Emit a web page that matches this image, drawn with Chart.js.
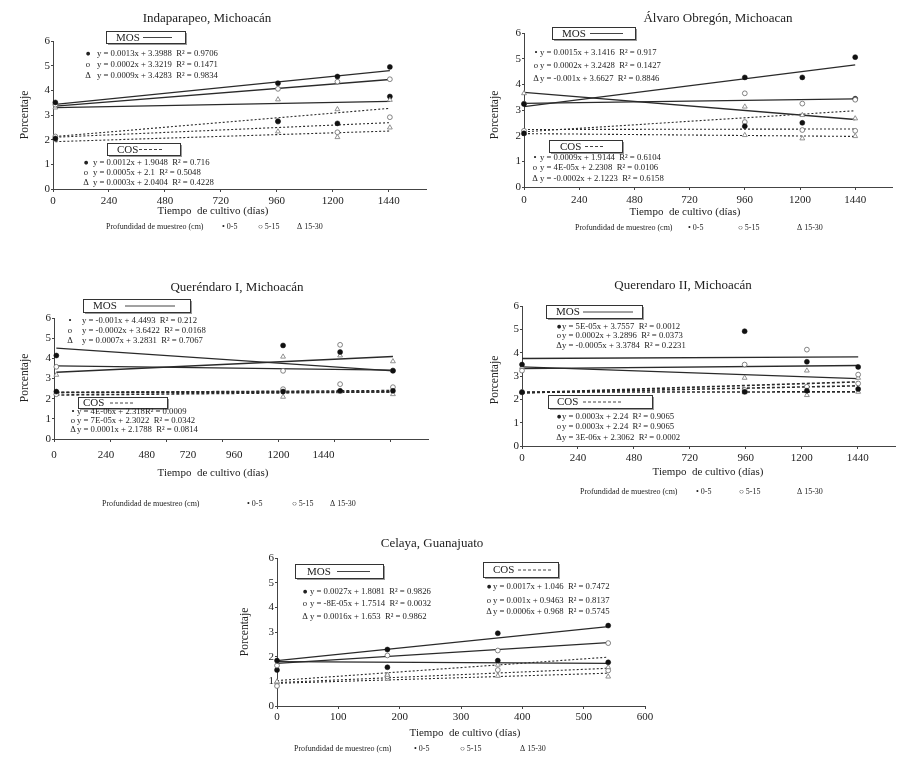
<!DOCTYPE html>
<html>
<head>
<meta charset="utf-8">
<script src="https://cdn.jsdelivr.net/npm/chart.js@4.4.1/dist/chart.umd.min.js"></script>
<style>
    html, body { margin: 0; padding: 0; background: #fff; }
    #page { position: relative; width: 900px; height: 762px; overflow: hidden; background: #fff; }
    #page canvas { position: absolute; left: 0; top: 0; }
</style>
</head>
<body>
<div id="page"></div>
<script>
// ---- values (percent vs. days of cultivation) ----
const dayTicks = [0, 240, 480, 720, 960, 1200, 1440];
const celayaTicks = [0, 100, 200, 300, 400, 500, 600];
const depthLabels = ['0-5', '5-15', '15-30'];

// Indaparapeo, Michoacán
const indapDays = [10, 965, 1220, 1445];
const indapMos05 = [3.51, 4.29, 4.56, 4.95];
const indapMos515 = [3.42, 4.06, 4.35, 4.45];
const indapMos1530 = [3.30, 3.63, 3.23, 3.61];
const indapCos05 = [2.05, 2.75, 2.66, 3.75];
const indapCos515 = [2.13, 2.73, 2.30, 2.91];
const indapCos1530 = [2.00, 2.33, 2.10, 2.49];
const indapMosFit = [[3.43, 4.80], [3.36, 4.44], [3.30, 3.55]];
const indapCosFit = [[2.13, 3.27], [2.10, 2.69], [1.92, 2.35]];
const indapMosEq = ['y = 0.0013x + 3.3988  R² = 0.9706', 'y = 0.0002x + 3.3219  R² = 0.1471', 'y = 0.0009x + 3.4283  R² = 0.9834'];
const indapCosEq = ['y = 0.0012x + 1.9048  R² = 0.716', 'y = 0.0005x + 2.1  R² = 0.5048', 'y = 0.0003x + 2.0404  R² = 0.4228'];

// Álvaro Obregón, Michoacan
const obregonDays = [0, 960, 1210, 1440];
const obregonMos05 = [3.23, 4.27, 4.27, 5.06];
const obregonMos515 = [3.25, 3.65, 3.25, 3.40];
const obregonMos1530 = [3.65, 3.13, 2.80, 2.67];
const obregonCos05 = [2.09, 2.37, 2.50, 3.44];
const obregonCos515 = [2.19, 2.53, 2.22, 2.19];
const obregonCos1530 = [2.08, 2.02, 1.89, 1.98];
const obregonMosFit = [[3.13, 4.76], [3.26, 3.43], [3.69, 2.63]];
const obregonCosFit = [[2.15, 2.97], [2.24, 2.26], [2.08, 1.97]];
const obregonMosEq = ['y = 0.0015x + 3.1416  R² = 0.917', 'y = 0.0002x + 3.2428  R² = 0.1427', 'y = -0.001x + 3.6627  R² = 0.8846'];
const obregonCosEq = ['y = 0.0009x + 1.9144  R² = 0.6104', 'y = 4E-05x + 2.2308  R² = 0.0106', 'y = -0.0002x + 2.1223  R² = 0.6158'];

// Queréndaro I, Michoacán
const querIDays = [10, 980, 1224, 1450];
const querIMos05 = [4.14, 4.64, 4.31, 3.38];
const querIMos515 = [3.58, 3.38, 4.67, 3.40];
const querIMos1530 = [3.18, 4.08, 4.14, 3.85];
const querICos05 = [2.35, 2.35, 2.39, 2.39];
const querICos515 = [2.22, 2.47, 2.72, 2.57];
const querICos1530 = [2.25, 2.09, 2.35, 2.22];
const querIMosFit = [[4.51, 3.38], [3.63, 3.42], [3.31, 4.09]];
const querICosFit = [[2.32, 2.33], [2.30, 2.40], [2.18, 2.34]];
const querIMosEq = ['y = -0.001x + 4.4493  R² = 0.212', 'y = -0.0002x + 3.6422  R² = 0.0168', 'y = 0.0007x + 3.2831  R² = 0.7067'];
const querICosEq = ['y = 4E-06x + 2.318R² = 0.0009', 'y = 7E-05x + 2.3022  R² = 0.0342', 'y = 0.0001x + 2.1788  R² = 0.0814'];
// tick labels of this panel sit off their tick marks in the original
const querILabelAt = [0, 222, 397, 573, 771, 960, 1153];

// Querendaro II, Michoacán
const querIIDays = [0, 955, 1222, 1442];
const querIIMos05 = [3.49, 4.92, 3.61, 3.39];
const querIIMos515 = [3.23, 3.49, 4.13, 3.06];
const querIIMos1530 = [3.38, 2.92, 3.23, 2.92];
const querIICos05 = [2.30, 2.32, 2.37, 2.44];
const querIICos515 = [2.32, 2.40, 2.54, 2.68];
const querIICos1530 = [2.30, 2.30, 2.18, 2.32];
const querIIMosFit = [[3.75, 3.82], [3.32, 3.45], [3.39, 2.89]];
const querIICosFit = [[2.28, 2.75], [2.28, 2.58], [2.31, 2.32]];
const querIIMosEq = ['y = 5E-05x + 3.7557  R² = 0.0012', 'y = 0.0002x + 3.2896  R² = 0.0373', 'y = -0.0005x + 3.3784  R² = 0.2231'];
const querIICosEq = ['y = 0.0003x + 2.24  R² = 0.9065', 'y = 0.0003x + 2.24  R² = 0.9065', 'y = 3E-06x + 2.3062  R² = 0.0002'];

// Celaya, Guanajuato
const celayaDays = [0, 180, 360, 540];
const celayaMos05 = [1.84, 2.29, 2.95, 3.26];
const celayaMos515 = [1.64, 2.05, 2.25, 2.55];
const celayaMos1530 = [1.46, 1.57, 1.84, 1.77];
const celayaCos05 = [0.99, 1.26, 1.67, 1.57];
const celayaCos515 = [0.81, 1.20, 1.46, 1.44];
const celayaCos1530 = [0.95, 1.10, 1.22, 1.19];
const celayaMosFit = [[1.84, 3.22], [1.73, 2.57], [1.80, 1.73]];
const celayaCosFit = [[1.03, 1.98], [0.95, 1.53], [0.92, 1.33]];
const celayaMosEq = ['y = 0.0027x + 1.8081  R² = 0.9826', 'y = -8E-05x + 1.7514  R² = 0.0032', 'y = 0.0016x + 1.653  R² = 0.9862'];
const celayaCosEq = ['y = 0.0017x + 1.046  R² = 0.7472', 'y = 0.001x + 0.9463  R² = 0.8137', 'y = 0.0006x + 0.968  R² = 0.5745'];

// ---- styles ----
const SERIF = '"Liberation Serif", "Times New Roman", serif';
const INK = '#222';
const marks = {
    dot: { pointStyle: 'circle', pointRadius: 2.5, backgroundColor: '#111', borderColor: '#111', borderWidth: 0.5 },
    ring: { pointStyle: 'circle', pointRadius: 2.4, backgroundColor: '#fff', borderColor: '#666', borderWidth: 0.8 },
    tri: { pointStyle: 'triangle', pointRadius: 2.8, backgroundColor: '#fff', borderColor: '#777', borderWidth: 0.8 }
};

// ---- panel layout (page pixels) ----
const panels = [
    {
        title: 'Indaparapeo, Michoacán', days: indapDays, ticks: dayTicks, xmax: 1600,
        mos: [indapMos05, indapMos515, indapMos1530], cos: [indapCos05, indapCos515, indapCos1530],
        mosFit: indapMosFit, cosFit: indapCosFit, mosEq: indapMosEq, cosEq: indapCosEq,
        area: [53, 426, 41, 189], tickPad: 3,
        titleAt: [207, 19], xTitleAt: [213, 211], yTitleAt: [25, 115],
        mosBox: [106, 31, 79, 12, 116, 143, 172], cosBox: [107, 143, 73, 12, 117, 139, 163],
        mosRows: [86, 97, [54, 65, 76]], cosRows: [84, 93, [163, 173, 183]],
        glyphs: ['●', 'o', 'Δ'], legendAt: [106, 227, 222, 258, 297],
        cosDash: [2, 2], cosWidth: 1.1
    },
    {
        title: 'Álvaro Obregón, Michoacan', days: obregonDays, ticks: dayTicks, xmax: 1600,
        mos: [obregonMos05, obregonMos515, obregonMos1530], cos: [obregonCos05, obregonCos515, obregonCos1530],
        mosFit: obregonMosFit, cosFit: obregonCosFit, mosEq: obregonMosEq, cosEq: obregonCosEq,
        area: [524, 892, 33, 187], tickPad: 4,
        titleAt: [718, 19], xTitleAt: [685, 212], yTitleAt: [495, 115],
        mosBox: [552, 27, 83, 12, 562, 590, 623], cosBox: [549, 140, 73, 12, 560, 585, 605],
        mosRows: [534, 540, [53, 66, 79]], cosRows: [533, 540, [158, 168, 179]],
        glyphs: ['•', 'o', 'Δ'], legendAt: [575, 228, 688, 738, 797],
        cosDash: [2, 2], cosWidth: 1.1
    },
    {
        title: 'Queréndaro I, Michoacán', days: querIDays, ticks: dayTicks, xmax: 1600, labelAt: querILabelAt,
        mos: [querIMos05, querIMos515, querIMos1530], cos: [querICos05, querICos515, querICos1530],
        mosFit: querIMosFit, cosFit: querICosFit, mosEq: querIMosEq, cosEq: querICosEq,
        area: [54, 428, 318, 439], tickPad: 7,
        titleAt: [237, 288], xTitleAt: [213, 473], yTitleAt: [25, 378],
        mosBox: [83, 299, 107, 13, 93, 125, 175], cosBox: [78, 397, 89, 11, 83, 110, 133],
        mosRows: [68, 82, [321, 331, 341]], cosRows: [71, 77, [412, 421, 430]],
        glyphs: ['•', 'o', 'Δ'], legendAt: [102, 504, 247, 292, 330],
        cosDash: [3, 2], cosWidth: 1.6
    },
    {
        title: 'Querendaro II, Michoacán', days: querIIDays, ticks: dayTicks, xmax: 1600,
        mos: [querIIMos05, querIIMos515, querIIMos1530], cos: [querIICos05, querIICos515, querIICos1530],
        mosFit: querIIMosFit, cosFit: querIICosFit, mosEq: querIIMosEq, cosEq: querIICosEq,
        area: [522, 895, 306, 446], tickPad: 3,
        titleAt: [683, 286], xTitleAt: [708, 472], yTitleAt: [495, 380],
        mosBox: [546, 305, 96, 13, 556, 583, 633], cosBox: [548, 395, 104, 13, 557, 583, 623],
        mosRows: [557, 562, [327, 336, 346]], cosRows: [557, 562, [417, 427, 438]],
        glyphs: ['●', 'o', 'Δ'], legendAt: [580, 492, 696, 739, 797],
        cosDash: [3, 2], cosWidth: 1.6
    },
    {
        title: 'Celaya, Guanajuato', days: celayaDays, ticks: celayaTicks, xmax: 600,
        mos: [celayaMos05, celayaMos515, celayaMos1530], cos: [celayaCos05, celayaCos515, celayaCos1530],
        mosMarks: ['dot', 'ring', 'dot'], cosMarks: ['tri', 'ring', 'tri'],
        mosFit: celayaMosFit, cosFit: celayaCosFit, mosEq: celayaMosEq, cosEq: celayaCosEq,
        area: [277, 645, 558, 706], tickPad: 2,
        titleAt: [432, 544], xTitleAt: [465, 733], yTitleAt: [245, 632],
        mosBox: [295, 564, 88, 14, 307, 337, 370], cosBox: [483, 562, 75, 15, 493, 518, 552],
        mosRows: [303, 310, [592, 604, 617]], cosRows: [487, 493, [587, 601, 612]],
        glyphs: ['●', 'o', 'Δ'], legendAt: [294, 749, 414, 460, 520],
        cosDash: [2, 2], cosWidth: 1.1
    }
];

function drawBox(ctx, box, name, dash) {
    const [x, y, w, h, tx, l1, l2] = box;
    ctx.fillStyle = '#9a9a9a';
    ctx.fillRect(x + 2, y + 2, w, h);
    ctx.fillStyle = '#fff';
    ctx.fillRect(x, y, w, h);
    ctx.strokeStyle = '#333';
    ctx.lineWidth = 1;
    ctx.strokeRect(x + 0.5, y + 0.5, w, h);
    ctx.fillStyle = INK;
    ctx.font = '11px ' + SERIF;
    ctx.textAlign = 'left';
    ctx.fillText(name, tx, y + h / 2 + 1);
    ctx.beginPath();
    ctx.setLineDash(dash);
    ctx.strokeStyle = '#444';
    ctx.moveTo(l1, y + h / 2 + 0.5);
    ctx.lineTo(l2, y + h / 2 + 0.5);
    ctx.stroke();
    ctx.setLineDash([]);
}

function drawRows(ctx, rows, eqs, glyphs) {
    const [mx, tx, ys] = rows;
    ctx.fillStyle = INK;
    ys.forEach((y, i) => {
        ctx.font = '8.7px ' + SERIF;
        ctx.textAlign = 'center';
        ctx.fillText(glyphs[i], mx + 2, y);
        ctx.textAlign = 'left';
        ctx.fillText(eqs[i], tx, y);
    });
}

function drawAnnotations(ctx, p) {
    ctx.save();
    ctx.textBaseline = 'middle';
    ctx.fillStyle = INK;

    ctx.font = '13px ' + SERIF;
    ctx.textAlign = 'center';
    ctx.fillText(p.title, p.titleAt[0], p.titleAt[1]);

    ctx.font = '11px ' + SERIF;
    ctx.fillText('Tiempo  de cultivo (días)', p.xTitleAt[0], p.xTitleAt[1]);

    ctx.save();
    ctx.translate(p.yTitleAt[0], p.yTitleAt[1]);
    ctx.rotate(-Math.PI / 2);
    ctx.font = '11.5px ' + SERIF;
    ctx.fillText('Porcentaje', 0, 0);
    ctx.restore();

    drawBox(ctx, p.mosBox, 'MOS', []);
    drawBox(ctx, p.cosBox, 'COS', [3, 2]);
    drawRows(ctx, p.mosRows, p.mosEq, p.glyphs);
    drawRows(ctx, p.cosRows, p.cosEq, p.glyphs);

    // sampling depth legend under the axis
    const [lx, ly, a, b, c] = p.legendAt;
    ctx.font = '8px ' + SERIF;
    ctx.textAlign = 'left';
    ctx.fillText('Profundidad de muestreo (cm)', lx, ly);
    ctx.fillText('• ' + depthLabels[0], a, ly);
    ctx.fillText('○ ' + depthLabels[1], b, ly);
    ctx.fillText('Δ ' + depthLabels[2], c, ly);
    ctx.restore();
}

function pointSet(days, vals, mark) {
    return Object.assign({
        data: days.map((d, i) => ({ x: d, y: vals[i] })),
        showLine: false, order: 1, clip: false
    }, marks[mark]);
}

function fitSet(days, fit, dash, width) {
    return {
        data: [{ x: days[0], y: fit[0] }, { x: days[days.length - 1], y: fit[1] }],
        showLine: true, pointRadius: 0, fill: false, order: 2, clip: false,
        borderColor: '#2a2a2a', borderWidth: width, borderDash: dash
    };
}

Chart.defaults.font.family = SERIF;
Chart.defaults.font.size = 11;
Chart.defaults.color = INK;

const page = document.getElementById('page');
const Y_W = 30;

panels.forEach((p, k) => {
    const cv = document.createElement('canvas');
    cv.width = 900;
    cv.height = 762;
    page.appendChild(cv);

    const mosMarks = p.mosMarks || ['dot', 'ring', 'tri'];
    const cosMarks = p.cosMarks || ['dot', 'ring', 'tri'];
    const datasets = [];
    p.mosFit.forEach(f => datasets.push(fitSet(p.days, f, [], 1.3)));
    p.cosFit.forEach(f => datasets.push(fitSet(p.days, f, p.cosDash, p.cosWidth)));
    p.mos.forEach((v, i) => datasets.push(pointSet(p.days, v, mosMarks[i])));
    p.cos.forEach((v, i) => datasets.push(pointSet(p.days, v, cosMarks[i])));

    const [l, r, t, b] = p.area;
    const split = !!p.labelAt;
    const xH = 20;
    const axisLine = { display: true, color: '#444', width: 1 };

    const scales = {
        x: {
            type: 'linear', min: 0, max: p.xmax, position: 'bottom', weight: 0,
            grid: { drawOnChartArea: false, drawTicks: true, tickLength: 3, color: '#444' },
            border: axisLine,
            ticks: { display: !split, padding: p.tickPad, maxRotation: 0, autoSkip: false, callback: v => String(v) },
            afterBuildTicks: ax => { ax.ticks = p.ticks.map(v => ({ value: v })); },
            afterFit: ax => { ax.height = split ? 3 : xH; }
        },
        y: {
            type: 'linear', min: 0, max: 6,
            grid: { drawOnChartArea: false, drawTicks: true, tickLength: 2, color: '#444' },
            border: axisLine,
            ticks: { stepSize: 1, padding: 1, callback: v => String(v) },
            afterFit: ax => { ax.width = Y_W; }
        }
    };
    if (split) {
        scales.xl = {
            type: 'linear', min: 0, max: p.xmax, position: 'bottom', weight: 1,
            grid: { display: false, drawTicks: false },
            border: { display: false },
            ticks: { padding: p.tickPad, maxRotation: 0, autoSkip: false, callback: (v, i) => String(p.ticks[i]) },
            afterBuildTicks: ax => { ax.ticks = p.labelAt.map(v => ({ value: v })); },
            afterFit: ax => { ax.height = xH - 3; }
        };
    }

    new Chart(cv, {
        type: 'scatter',
        data: { datasets: datasets },
        options: {
            responsive: false,
            animation: false,
            events: [],
            layout: { padding: { left: l - Y_W, right: 900 - r, top: t, bottom: 762 - b - xH } },
            plugins: { legend: { display: false }, tooltip: { enabled: false } },
            scales: scales
        },
        plugins: [{ id: 'annot' + k, afterDraw: chart => drawAnnotations(chart.ctx, p) }]
    });
});
</script>
</body>
</html>
